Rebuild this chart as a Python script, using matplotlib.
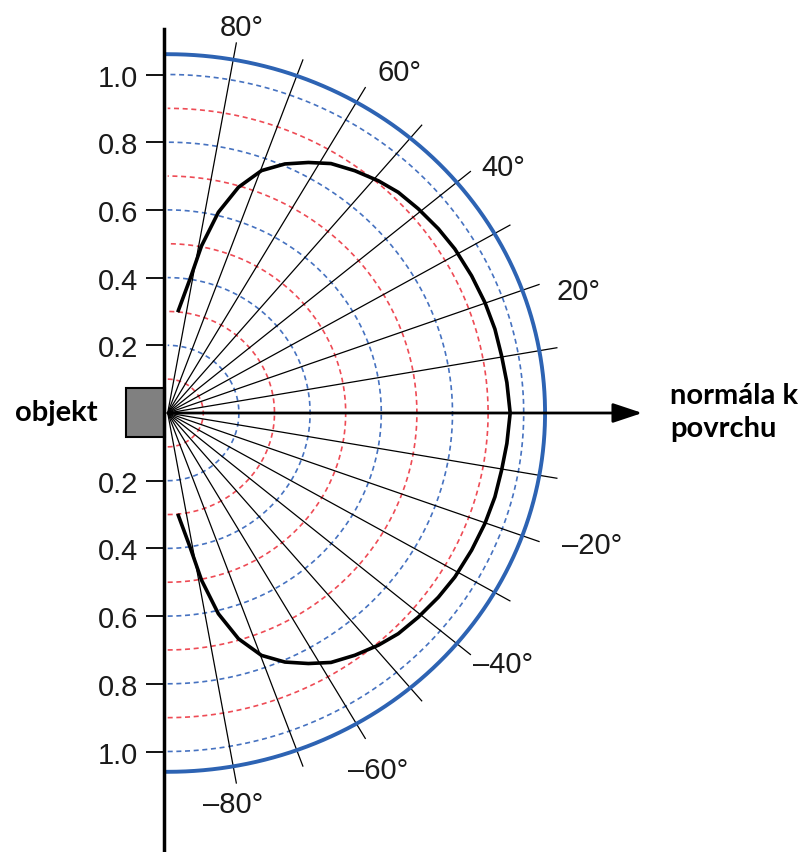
import numpy as np
import matplotlib
matplotlib.use('Agg')
import matplotlib.pyplot as plt
from matplotlib.patches import Rectangle

# data
ring_radii = [0.1, 0.2, 0.3, 0.4, 0.5, 0.6, 0.7, 0.8, 0.9, 1.0]
spoke_angles = [-80, -70, -60, -50, -40, -30, -20, -10, 10, 20, 30, 40, 50, 60, 70, 80]
angle_labels = [80, 60, 40, 20, -20, -40, -60, -80]
y_ticks = [1.0, 0.8, 0.6, 0.4, 0.2, -0.2, -0.4, -0.6, -0.8, -1.0]
y_ticklabels = ['1.0', '0.8', '0.6', '0.4', '0.2', '0.2', '0.4', '0.6', '0.8', '1.0']
outer_radius = 1.06

# radiation pattern (angle in degrees, relative radius)
pattern_theta = [84.6, 81.0, 79.1, 76.5, 73.4, 69.8, 65.9, 61.9, 58.1, 53.7, 49.2,
                 45.2, 40.6, 35.6, 31.0, 25.4, 20.1, 15.1, 10.2, 5.4, 0.0,
                 -5.4, -10.2, -15.1, -20.1, -25.4, -31.0, -35.6, -40.6, -45.2,
                 -49.2, -53.7, -58.1, -61.9, -65.9, -69.8, -73.4, -76.5, -79.1,
                 -81.0, -84.6]
pattern_r = [0.299, 0.401, 0.503, 0.610, 0.696, 0.763, 0.806, 0.839, 0.868, 0.888, 0.906,
             0.919, 0.927, 0.935, 0.941, 0.945, 0.949, 0.952, 0.953, 0.957, 0.962,
             0.957, 0.953, 0.952, 0.949, 0.945, 0.941, 0.935, 0.927, 0.919,
             0.906, 0.888, 0.868, 0.839, 0.806, 0.763, 0.696, 0.610, 0.503,
             0.401, 0.299]

# layout (label centre radius / angle)
label_place = {80: (1.16, 79.6), 60: (1.20, 57.2), 40: (1.19, 37.7), 20: (1.21, 17.3),
               -20: (1.255, -18.1), -40: (1.20, -38.2), -60: (1.21, -60.7), -80: (1.17, -81.0)}

RED = '#ee4b55'
BLUE = '#4672c0'
ARC = '#2d63b3'
plt.rcParams['font.family'] = ['Liberation Sans', 'DejaVu Sans']

fig = plt.figure(figsize=(8.07, 8.53), dpi=100)
ax = fig.add_axes([0, 0, 1, 1])
ax.set_xlim(-167.7 / 356, (807 - 167.7) / 356)
ax.set_ylim(-(853 - 414) / 338.5, 414 / 338.5)

t = np.radians(np.linspace(-90, 90, 400))

# dashed rings
for i, r in enumerate(ring_radii):
    col = RED if i % 2 == 0 else BLUE
    ax.plot(r * np.cos(t), r * np.sin(t), color=col, lw=1.2,
            ls=(0, (3, 2.2)), zorder=1)

# spokes
for a in spoke_angles:
    ar = np.radians(a)
    ax.plot([0, 1.11 * np.cos(ar)], [0, 1.11 * np.sin(ar)], color='black', lw=0.9, zorder=2)

# outer arc
ax.plot(outer_radius * np.cos(t), outer_radius * np.sin(t), color=ARC, lw=2.8, zorder=3)

# pattern curve
pt = np.radians(pattern_theta)
pr = np.array(pattern_r)
ax.plot(pr * np.cos(pt), pr * np.sin(pt), color='black', lw=2.6, zorder=4,
        solid_capstyle='butt', solid_joinstyle='round')

# normal arrow
ax.annotate('', xy=(1.333, 0), xytext=(0, 0),
            arrowprops=dict(arrowstyle='-|>,head_length=0.9,head_width=0.3',
                            color='black', lw=2.0, shrinkA=0, shrinkB=0,
                            mutation_scale=20), zorder=5)

# angle labels
for a in angle_labels:
    rr, th = label_place[a]
    txt = f'{a}\u00b0' if a > 0 else f'\u2013{abs(a)}\u00b0'
    ax.text(rr * np.cos(np.radians(th)), rr * np.sin(np.radians(th)), txt,
            ha='center', va='center', fontsize=21, color='#1a1a1a')

# object box
ax.add_patch(Rectangle((-0.118, -0.072), 0.11, 0.146, facecolor='#808080',
                       edgecolor='black', lw=1.5, zorder=6))

# left axis
for s in ['top', 'right', 'bottom']:
    ax.spines[s].set_visible(False)
ax.spines['left'].set_position(('data', -0.009))
ax.spines['left'].set_bounds(-1.5, 1.134)
ax.spines['left'].set_linewidth(2.5)
ax.spines['left'].set_zorder(7)
ax.set_xticks([])
ax.set_yticks(y_ticks)
ax.set_yticklabels(y_ticklabels)
ax.tick_params(axis='y', direction='out', length=13, width=1.3, pad=6,
               labelsize=21, labelcolor='#1a1a1a')

ax.text(-0.429, 0.003, 'objekt', ha='left', va='center', fontsize=21,
        fontweight='bold', family=['Lato', 'DejaVu Sans'])
ax.text(1.411, 0.004, 'normála k\npovrchu', ha='left', va='center', fontsize=21,
        fontweight='bold', family=['Lato', 'DejaVu Sans'], linespacing=1.3)

fig.savefig('out.png', dpi=100)
